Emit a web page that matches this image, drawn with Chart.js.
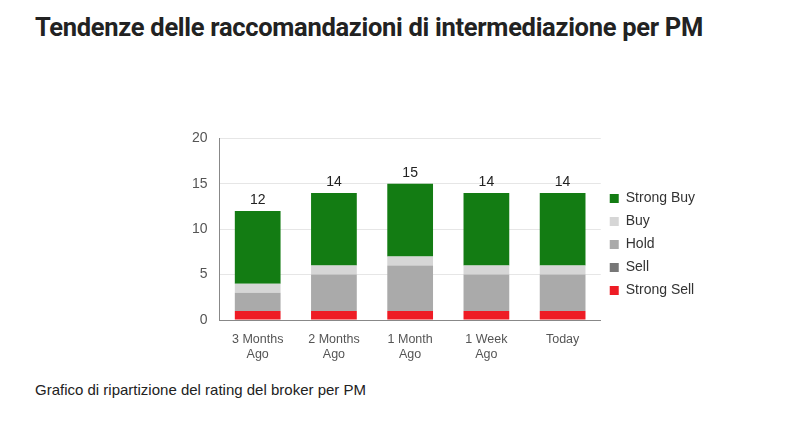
<!DOCTYPE html>
<html><head><meta charset="utf-8">
<script src="https://cdn.jsdelivr.net/npm/chart.js@4"></script>
<style>
body{margin:0;background:#fff;width:798px;height:424px;position:relative;font-family:"Liberation Sans",Arial,sans-serif;}
h1{position:absolute;left:35px;top:12px;margin:0;font-size:25.5px;font-weight:bold;color:#222;font-family:"Roboto","Liberation Sans",sans-serif;letter-spacing:-0.3px}
#cap{position:absolute;left:35px;top:381px;font-size:15px;color:#222}
#wrap{position:absolute;left:180px;top:118px;width:525px;height:248px}
</style></head><body>
<h1>Tendenze delle raccomandazioni di intermediazione per PM</h1>
<div id="wrap"><canvas id="c"></canvas></div>
<div id="cap">Grafico di ripartizione del rating del broker per PM</div>
<script>
const categories=[["3 Months","Ago"],["2 Months","Ago"],["1 Month","Ago"],["1 Week","Ago"],"Today"];
const strongSell=[1,1,1,1,1];
const sell=[0,0,0,0,0];
const hold=[2,4,5,4,4];
const buy=[1,1,1,1,1];
const strongBuy=[8,8,8,8,8];
const totals=[12,14,15,14,14];
const totalPlugin={id:'tot',afterDatasetsDraw(ch){const c=ch.ctx;const m=ch.getDatasetMeta(4);c.save();c.font='14px "Liberation Sans",Arial';c.fillStyle='#222';c.textAlign='center';c.textBaseline='bottom';m.data.forEach((b,i)=>c.fillText(totals[i],b.x,ch.scales.y.getPixelForValue(totals[i])-4));c.restore();}};
new Chart(document.getElementById('c'),{type:'bar',
data:{labels:categories,datasets:[
{label:'Strong Sell',data:strongSell,backgroundColor:'#ee1c25'},
{label:'Sell',data:sell,backgroundColor:'#777777'},
{label:'Hold',data:hold,backgroundColor:'#aaaaaa'},
{label:'Buy',data:buy,backgroundColor:'#d6d6d6'},
{label:'Strong Buy',data:strongBuy,backgroundColor:'#137c13'}]},
options:{responsive:true,maintainAspectRatio:false,animation:false,
datasets:{bar:{barPercentage:0.6,categoryPercentage:1}},
layout:{padding:{top:5}},
scales:{x:{stacked:true,grid:{display:false},border:{color:'#888'},ticks:{color:'#555',font:{size:12.5,family:'"Liberation Sans",Arial'},maxRotation:0,padding:4}},
y:{stacked:true,min:0,max:20,ticks:{stepSize:5,color:'#555',font:{size:14},padding:12},grid:{color:'#e6e6e6',drawTicks:false},border:{color:'#888'}}},
plugins:{tooltip:{enabled:false},legend:{position:'right',reverse:true,labels:{boxWidth:9,boxHeight:9,padding:9,color:'#333',font:{size:14}}}}},
plugins:[totalPlugin]});
</script></body></html>
